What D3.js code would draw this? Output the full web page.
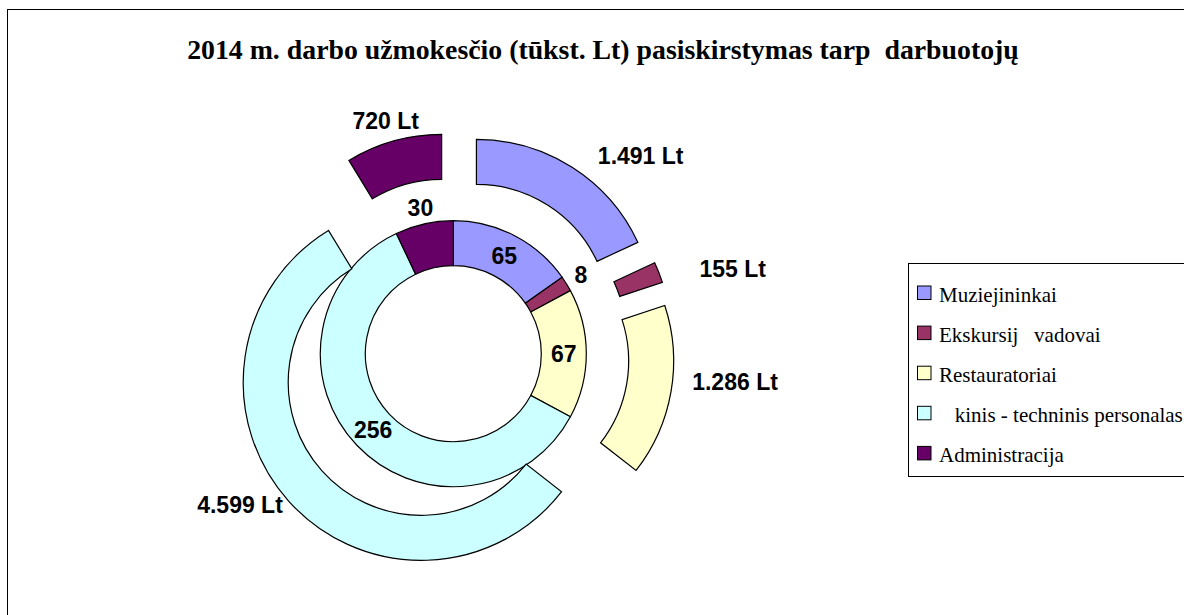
<!DOCTYPE html>
<html>
<head>
<meta charset="utf-8">
<script src="https://cdn.jsdelivr.net/npm/d3@7"></script>
<style>
  body { margin: 0; background: #fff; }
  svg { display: block; }
</style>
</head>
<body>
<svg id="chart" width="1184" height="615"></svg>
<script>
"use strict"

// data
var categories = ["Muziejininkai", "Ekskursij   vadovai", "Restauratoriai", "   kinis - techninis personalas", "Administracija"];
var employees = [65, 8, 67, 256, 30];
var salaries = [1491, 155, 1286, 4599, 720];
var salaryLabels = ["1.491 Lt", "155 Lt", "1.286 Lt", "4.599 Lt", "720 Lt"];
var palette = ["#9999FF", "#993366", "#FFFFCC", "#CCFFFF", "#660066"];
var title = "2014 m. darbo užmokesčio (tūkst. Lt) pasiskirstymas tarp  darbuotojų";

// layout
var CX = 453.3, CY = 353.7;
var HOLE = 88, RING = 45, EXPLODE = 43;
var OUTER_LABEL_R = 235;
// hand nudges of the outer labels, Excel had them dragged
var labelNudge = [[38, 0], [30, 1], [8, -12], [-6, -5], [5, -7]];

var svg = d3.select("#chart");

// frame
svg.append("rect")
    .attr("x", 7.5).attr("y", 9.5)
    .attr("width", 1200).attr("height", 620)
    .attr("fill", "#fff").attr("stroke", "#000").attr("stroke-width", 1);

svg.append("text")
    .attr("x", 603).attr("y", 59)
    .attr("text-anchor", "middle")
    .style("font-family", "'Liberation Serif', 'Times New Roman', serif")
    .style("font-weight", "bold")
    .style("font-size", "27.8px")
    .style("white-space", "pre")
    .text(title);

var color = d3.scaleOrdinal().domain(categories).range(palette);

var pie = d3.pie().sort(null).value(function(d) { return d; });
var innerArcs = pie(employees);
var outerArcs = pie(salaries);

var innerArc = d3.arc().innerRadius(HOLE).outerRadius(HOLE + RING);
var outerArc = d3.arc().innerRadius(HOLE + RING).outerRadius(HOLE + 2 * RING);

var g = svg.append("g").attr("transform", "translate(" + CX + "," + CY + ")");

function polar(a_, r_) { return [r_ * Math.sin(a_), -r_ * Math.cos(a_)]; }
function mid(d_) { return (d_.startAngle + d_.endAngle) / 2; }

g.selectAll(".inner").data(innerArcs).enter().append("path")
    .attr("class", "inner")
    .attr("d", innerArc)
    .attr("fill", function(d, i) { return color(categories[i]); })
    .attr("stroke", "#000").attr("stroke-width", 1.2);

g.selectAll(".outer").data(outerArcs).enter().append("path")
    .attr("class", "outer")
    .attr("transform", function(d) { var p = polar(mid(d), EXPLODE); return "translate(" + p[0] + "," + p[1] + ")"; })
    .attr("d", outerArc)
    .attr("fill", function(d, i) { return color(categories[i]); })
    .attr("stroke", "#000").attr("stroke-width", 1.2);

var labelFont = "'Liberation Sans', Arial, sans-serif";

// inner labels, thin slices pushed out
g.selectAll(".inLab").data(innerArcs).enter().append("text")
    .attr("class", "inLab")
    .attr("text-anchor", "middle")
    .attr("dy", "0.36em")
    .attr("transform", function(d) {
        var thin = (d.endAngle - d.startAngle) < 0.5;
        var p = polar(mid(d), thin ? 150 : HOLE + RING / 2);
        return "translate(" + p[0] + "," + p[1] + ")";
    })
    .style("font-family", labelFont).style("font-weight", "bold").style("font-size", "23px")
    .text(function(d) { return d.value; });

// outer labels
g.selectAll(".outLab").data(outerArcs).enter().append("text")
    .attr("class", "outLab")
    .attr("text-anchor", "middle")
    .attr("dy", "0.36em")
    .style("font-family", labelFont).style("font-weight", "bold").style("font-size", "23px")
    .text(function(d, i) { return salaryLabels[i]; })
    .attr("transform", function(d, i) {
        var a = mid(d);
        var p = polar(a, OUTER_LABEL_R);
        var half = this.getComputedTextLength() / 2;
        return "translate(" + (p[0] + half * Math.sin(a) + labelNudge[i][0]) + "," + (p[1] + labelNudge[i][1]) + ")";
    });

// legend
var legend = svg.append("g");
legend.append("rect")
    .attr("x", 908.5).attr("y", 263.5)
    .attr("width", 300).attr("height", 213)
    .attr("fill", "#fff").attr("stroke", "#000").attr("stroke-width", 1);

var rows = legend.selectAll(".row").data(categories).enter().append("g")
    .attr("class", "row")
    .attr("transform", function(d, i) { return "translate(917.5," + (293 + i * 40.1) + ")"; });

rows.append("rect")
    .attr("x", 0).attr("y", -7)
    .attr("width", 13.5).attr("height", 13.5)
    .attr("fill", function(d) { return color(d); })
    .attr("stroke", "#000").attr("stroke-width", 1);

rows.append("text")
    .attr("x", 21.5).attr("y", 8.5)
    .style("font-family", "'Liberation Serif', 'Times New Roman', serif")
    .style("font-size", "21px")
    .style("white-space", "pre")
    .text(function(d) { return d; });
</script>
</body>
</html>
